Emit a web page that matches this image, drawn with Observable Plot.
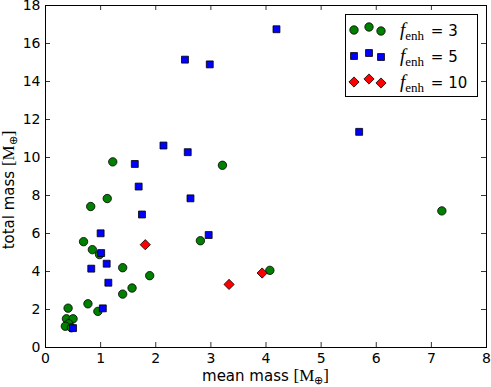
<!DOCTYPE html>
<html>
<head>
<meta charset="utf-8">
<script src="https://cdn.jsdelivr.net/npm/d3@7"></script>
<script src="https://cdn.jsdelivr.net/npm/@observablehq/plot@0.6"></script>
<style>
  html, body { margin: 0; padding: 0; background: #fff; }
  #wrap { position: relative; width: 491px; height: 387px; }
  #legend { position: absolute; left: 345px; top: 14px; width: 131px; height: 81px;
    border: 1px solid #000; background: #fff; box-sizing: content-box; }
  .row { position: absolute; left: 0; height: 26px; }
  .lab { position: absolute; left: 54px; top: 1px; font-family: "DejaVu Sans"; font-size: 15px; white-space: nowrap; line-height: 24px; }
  .f { font-family: "Liberation Serif"; font-style: italic; font-size: 19px; }
  .sub { font-family: "Liberation Serif"; font-size: 13px; position: relative; top: 4px; margin-right: 2px; }
</style>
</head>
<body>
<div id="wrap"><div id="legend"></div></div>
<script>
// ---- data ----
const greenX = [1.22,1.12,0.82,0.69,0.85,0.98,1.40,1.89,1.57,1.40,0.77,0.95,0.41,0.38,0.50,0.42,0.36,0.47,3.21,2.81,4.07,7.19];
const greenY = [9.77,7.84,7.42,5.57,5.15,4.89,4.20,3.78,3.13,2.81,2.30,1.90,2.07,1.51,1.51,1.25,1.12,1.04,9.59,5.62,4.06,7.19];
const blueX = [2.53,2.98,2.14,2.58,1.62,1.69,2.63,4.19,5.69,1.75,1.00,2.96,1.01,1.11,0.83,1.14,1.04,0.50];
const blueY = [15.15,14.90,10.63,10.28,9.66,8.47,7.85,16.75,11.35,7.00,6.01,5.92,4.97,4.41,4.15,3.41,2.06,1.02];
const redX = [1.81,3.33,3.93];
const redY = [5.41,3.32,3.92];
const fenhValues = ["3", "5", "10"];
const xTicks = [0,1,2,3,4,5,6,7,8];
const yTicks = [0,2,4,6,8,10,12,14,16,18];
const xLabel = "mean mass";
const yLabel = "total mass";

const toPts = (xs, ys) => xs.map((x, i) => ({x, y: ys[i]}));
const series = [
  {pts: toPts(greenX, greenY), symbol: "circle", r: 4.2, fill: "#008000"},
  {pts: toPts(blueX, blueY), symbol: "square", r: 3.9, fill: "#0000ff"},
  {pts: toPts(redX, redY), symbol: "diamond2", r: 4.6, fill: "#ff0000"}
];

const W = 491, H = 387, mL = 45, mR = 5, mT = 5, mB = 40;
const innerW = W - mL - mR, innerH = H - mT - mB;
const tl = 5;

const plot = Plot.plot({
  width: W, height: H,
  marginLeft: mL, marginRight: mR, marginTop: mT, marginBottom: mB,
  style: {fontFamily: "DejaVu Sans", fontSize: "14px", background: "#fff", color: "#000", overflow: "visible"},
  x: {domain: [0, 8]},
  y: {domain: [0, 18]},
  marks: [
    Plot.axisX({ticks: xTicks, tickSize: 0, tickPadding: 6, fontSize: 14, label: null, tickFormat: d => String(d)}),
    Plot.axisY({ticks: yTicks, tickSize: 0, tickPadding: 5, fontSize: 14, label: null, tickFormat: d => String(d)}),
    Plot.tickX(xTicks, {x: d => d, insetTop: innerH - tl, stroke: "#000", strokeWidth: 0.8}),
    Plot.tickX(xTicks, {x: d => d, insetBottom: innerH - tl, stroke: "#000", strokeWidth: 0.8}),
    Plot.tickY(yTicks, {y: d => d, insetRight: innerW - tl, stroke: "#000", strokeWidth: 0.8}),
    Plot.tickY(yTicks, {y: d => d, insetLeft: innerW - tl, stroke: "#000", strokeWidth: 0.8}),
    ...series.map(s => Plot.dot(s.pts, {x: "x", y: "y", symbol: () => s.symbol, r: s.r, fill: s.fill, stroke: "#000", strokeWidth: 0.8})),
    Plot.frame({stroke: "#000", strokeWidth: 1})
  ]
});
document.getElementById("wrap").prepend(plot);

// axis labels with M_⊕
function addLabel(text, transform) {
  const t = d3.select(plot).append("text")
    .attr("transform", transform)
    .attr("text-anchor", "middle")
    .attr("font-family", "DejaVu Sans").attr("font-size", 15).attr("fill", "#000");
  t.append("tspan").text(text + " ");
  t.append("tspan").attr("font-family", "Liberation Serif").attr("font-size", 17).text("[M");
  t.append("tspan").attr("font-family", "Liberation Serif").attr("font-size", 11).attr("dy", 3).text("\u2295");
  t.append("tspan").attr("font-family", "Liberation Serif").attr("font-size", 17).attr("dy", -3).text("]");
}
addLabel(xLabel, `translate(${mL + innerW / 2},381)`);
addLabel(yLabel, `translate(14,190) rotate(-90)`);

// legend
const legend = document.getElementById("legend");
const offs = [0, -3, 1];
series.forEach((s, i) => {
  const row = document.createElement("div");
  row.className = "row";
  row.style.top = (2 + i * 26) + "px";
  row.style.width = "131px";
  const svg = d3.create("svg").attr("width", 48).attr("height", 26).style("position", "absolute").style("left", "0px").style("top", "0px");
  const sym = {circle: d3.symbolCircle, square: d3.symbolSquare, diamond2: d3.symbolDiamond2}[s.symbol];
  [8, 23, 35].forEach((cx, j) => {
    svg.append("path").attr("d", d3.symbol(sym, Math.PI * s.r * s.r)())
      .attr("transform", `translate(${cx},${13 + offs[j]})`)
      .attr("fill", s.fill).attr("stroke", "#000").attr("stroke-width", 0.8);
  });
  row.appendChild(svg.node());
  const lab = document.createElement("div");
  lab.className = "lab";
  lab.innerHTML = `<span class="f">f</span><span class="sub">enh</span> = ${fenhValues[i]}`;
  row.appendChild(lab);
  legend.appendChild(row);
});
</script>
</body>
</html>
